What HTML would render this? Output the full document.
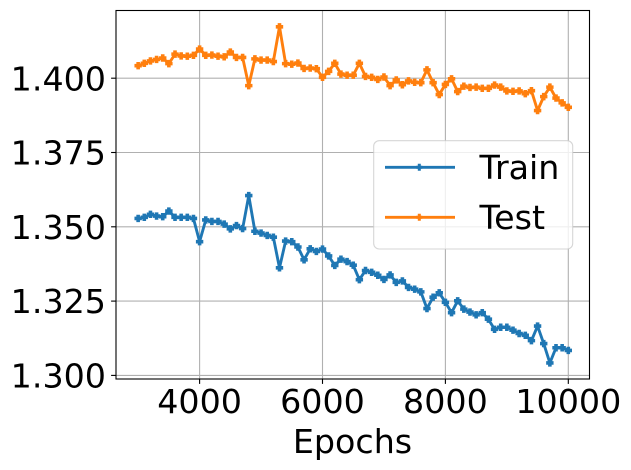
<!DOCTYPE html>
<html>
<head>
<meta charset="utf-8">
<style>
html,body{margin:0;padding:0;background:#fff;width:631px;height:470px;overflow:hidden}
svg{display:block}
text{font-family:"DejaVu Sans",sans-serif;fill:#000}
</style>
</head>
<body>
<svg id="chart" xmlns="http://www.w3.org/2000/svg" width="631" height="470" viewBox="0 0 631 470">
<rect x="116" y="10.5" width="473.5" height="368.5" fill="#fff"/>
<g id="grid"></g>
<g id="series"></g>
<rect x="116" y="10.5" width="473.5" height="368.5" fill="none" stroke="#000" stroke-width="1.1"/>
<g id="ticks"></g>
<text x="352.5" y="453" font-size="33.3" text-anchor="middle">Epochs</text>
<g>
<rect x="373.7" y="140.7" width="199" height="108.3" rx="5.5" ry="5.5" fill="#fff" fill-opacity="0.8" stroke="#ccc" stroke-opacity="0.8" stroke-width="1.1"/>
<g>
<line x1="385" y1="167.3" x2="455" y2="167.3" stroke="#1f77b4" stroke-width="2.8"/>
<path d="M419.3 163.8V170.8M416.3 167.3H422.3" stroke="#1f77b4" stroke-width="3" fill="none"/>
<text x="479.5" y="179" font-size="33.3">Train</text>
</g>
<g>
<line x1="385" y1="217.3" x2="455" y2="217.3" stroke="#ff7f0e" stroke-width="2.8"/>
<path d="M419.3 213.8V220.8M416.3 217.3H422.3" stroke="#ff7f0e" stroke-width="3" fill="none"/>
<text x="479.5" y="229" font-size="33.3">Test</text>
</g>
</g>
</svg>
<script>
const epochs = [3000,3100,3200,3300,3400,3500,3600,3700,3800,3900,4000,4100,4200,4300,4400,4500,4600,4700,4800,4900,5000,5100,5200,5300,5400,5500,5600,5700,5800,5900,6000,6100,6200,6300,6400,6500,6600,6700,6800,6900,7000,7100,7200,7300,7400,7500,7600,7700,7800,7900,8000,8100,8200,8300,8400,8500,8600,8700,8800,8900,9000,9100,9200,9300,9400,9500,9600,9700,9800,9900,10000];
const trainValues = [1.3528,1.3532,1.3542,1.3536,1.3534,1.3553,1.3532,1.3532,1.3532,1.3528,1.3450,1.3523,1.3518,1.3518,1.3509,1.3493,1.3504,1.3494,1.3605,1.3485,1.3479,1.3471,1.3465,1.3362,1.3452,1.3450,1.3432,1.3389,1.3426,1.3417,1.3425,1.3402,1.3370,1.3391,1.3383,1.3371,1.3322,1.3353,1.3347,1.3337,1.3323,1.3338,1.3313,1.3318,1.3296,1.3290,1.3281,1.3225,1.3263,1.3278,1.3246,1.3211,1.3251,1.3223,1.3213,1.3204,1.3211,1.3189,1.3155,1.3162,1.3162,1.3152,1.3141,1.3135,1.3117,1.3166,1.3107,1.3042,1.3093,1.3093,1.3084];
const testValues = [1.4042,1.4050,1.4058,1.4063,1.4068,1.4049,1.4081,1.4075,1.4074,1.4077,1.4098,1.4077,1.4078,1.4074,1.4072,1.4088,1.4070,1.4070,1.3975,1.4065,1.4061,1.4061,1.4056,1.4173,1.4049,1.4047,1.4051,1.4033,1.4034,1.4032,1.4003,1.4023,1.4050,1.4014,1.4010,1.4010,1.4050,1.4006,1.4003,1.3996,1.4004,1.3975,1.3994,1.3978,1.3991,1.3986,1.3985,1.4028,1.3985,1.3945,1.3979,1.3998,1.3955,1.3973,1.3969,1.3970,1.3966,1.3966,1.3977,1.3970,1.3957,1.3956,1.3957,1.3948,1.3958,1.3891,1.3938,1.3970,1.3933,1.3917,1.3902];
const xTickValues = [4000,6000,8000,10000];
const yTickValues = [1.300,1.325,1.350,1.375,1.400];
const yTickLabels = ["1.300","1.325","1.350","1.375","1.400"];

const NS = "http://www.w3.org/2000/svg";
function xScale(v){ return 199.6 + (v - 4000) * 0.06145; }
function yScale(v){ return 78.2 + (1.4 - v) * 2972; }
function make(tag, attrs, parent){
  const el = document.createElementNS(NS, tag);
  for (const k in attrs) el.setAttribute(k, attrs[k]);
  parent.appendChild(el);
  return el;
}
const gridG = document.getElementById("grid");
const ticksG = document.getElementById("ticks");
const seriesG = document.getElementById("series");

xTickValues.forEach(function(v){
  const x = xScale(v);
  const g = make("line", {x1:x, x2:x, y1:10.5, y2:379, stroke:"#b0b0b0", "stroke-width":1.1}, gridG);
  
  
  const t = make("line", {x1:x, x2:x, y1:379, y2:383.9, stroke:"#000", "stroke-width":1.1}, ticksG);
  
  
  const l = make("text", {x:x, y:413, "font-size":33.3, "text-anchor":"middle"}, ticksG);
  
  
  l.textContent = String(v);
});
yTickValues.forEach(function(v, i){
  const y = yScale(v);
  const g = make("line", {x1:116, x2:589.5, y1:y, y2:y, stroke:"#b0b0b0", "stroke-width":1.1}, gridG);
  
  
  const t = make("line", {x1:111.1, x2:116, y1:y, y2:y, stroke:"#000", "stroke-width":1.1}, ticksG);
  
  
  const l = make("text", {x:106, y:y + 12.1, "font-size":33.3, "text-anchor":"end"}, ticksG);
  
  
  l.textContent = yTickLabels[i];
});
function drawSeries(values, color, lineName, markerName){
  const pts = values.map(function(v, i){ return xScale(epochs[i]).toFixed(2) + "," + yScale(v).toFixed(2); });
  const line = make("polyline", {points:pts.join(" "), fill:"none", stroke:color, "stroke-width":2.9, "stroke-linejoin":"round"}, seriesG);
  
  
  values.forEach(function(v, i){
    const x = xScale(epochs[i]), y = yScale(v);
    const m = make("path", {d:"M"+(x-3.7)+" "+y+"H"+(x+3.7)+"M"+x+" "+(y-3.7)+"V"+(y+3.7), stroke:color, "stroke-width":3.6, fill:"none"}, seriesG);
    
    
  });
}
drawSeries(trainValues, "#1f77b4", "train-line", "train-point");
drawSeries(testValues, "#ff7f0e", "test-line", "test-point");
</script>
</body>
</html>
